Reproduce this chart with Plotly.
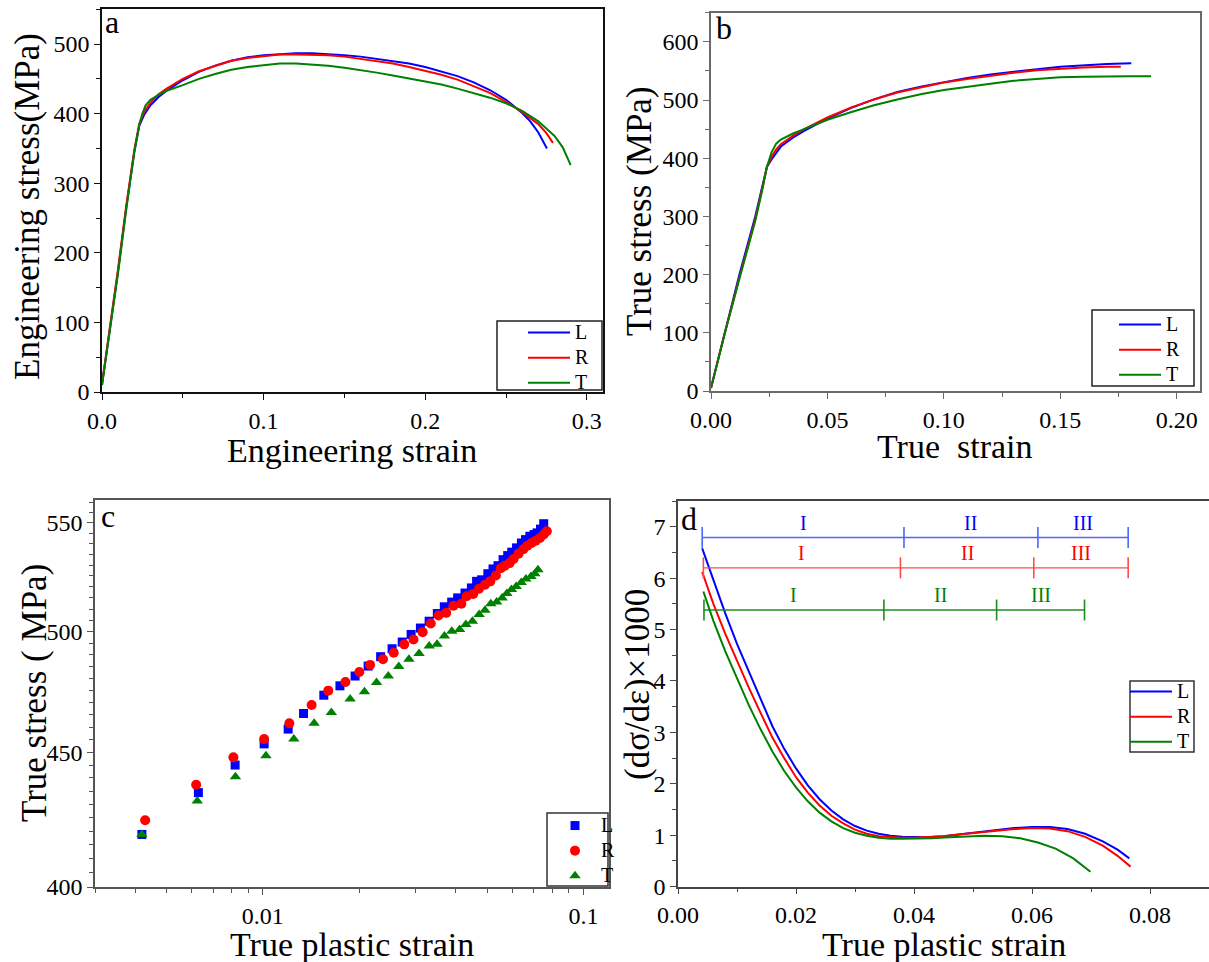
import math
import plotly.graph_objects as go

# ---------------- data ----------------
# (a) engineering stress-strain
a_L_x = [0, 0.005, 0.010, 0.015, 0.020, 0.023, 0.026, 0.030, 0.035, 0.040, 0.050, 0.060, 0.070, 0.080, 0.090,
         0.100, 0.110, 0.120, 0.130, 0.140, 0.150, 0.160, 0.170, 0.180, 0.190, 0.200, 0.210, 0.220, 0.230,
         0.240, 0.250, 0.260, 0.265, 0.270, 0.2753]
a_L_y = [10, 90, 175, 265, 345, 382, 398, 412, 424, 433, 448, 460, 469, 476, 481,
         484, 486, 487, 487, 486, 484, 482, 479, 476, 472, 467, 461, 454, 445,
         434, 420, 401, 389, 373, 350]
a_R_x = [0, 0.005, 0.010, 0.015, 0.020, 0.023, 0.026, 0.030, 0.035, 0.040, 0.050, 0.060, 0.070, 0.080, 0.090,
         0.100, 0.110, 0.120, 0.130, 0.140, 0.150, 0.160, 0.170, 0.180, 0.190, 0.200, 0.210, 0.220, 0.230,
         0.240, 0.250, 0.260, 0.270, 0.275, 0.279]
a_R_y = [12, 92, 178, 268, 348, 385, 402, 416, 428, 436, 450, 461, 469, 476, 480,
         483, 485, 485, 485, 484, 482, 479, 476, 472, 467, 462, 456, 449, 440,
         430, 417, 402, 385, 372, 358]
a_T_x = [0, 0.005, 0.010, 0.015, 0.020, 0.023, 0.025, 0.027, 0.030, 0.035, 0.040, 0.050, 0.060, 0.070, 0.080,
         0.090, 0.100, 0.110, 0.120, 0.130, 0.140, 0.150, 0.160, 0.170, 0.180, 0.190, 0.200, 0.210, 0.220,
         0.230, 0.240, 0.250, 0.260, 0.270, 0.280, 0.285, 0.290]
a_T_y = [10, 88, 172, 262, 345, 383, 400, 412, 420, 427, 433, 441, 450, 457, 463,
         467, 470, 472, 472, 471, 469, 466, 463, 459, 455, 451, 447, 442, 436,
         430, 423, 415, 404, 389, 368, 352, 326]

# (b) true stress-strain
b_L_x = [0, 0.0058, 0.0122, 0.019, 0.022, 0.024, 0.026, 0.028, 0.030, 0.035, 0.040, 0.050, 0.060, 0.070,
         0.080, 0.090, 0.100, 0.110, 0.120, 0.130, 0.140, 0.150, 0.160, 0.170, 0.1805]
b_L_y = [5, 100, 200, 300, 350, 385, 398, 410, 420, 435, 447, 468, 486, 501,
         514, 523, 531, 538, 544, 549, 553, 557, 560, 562, 563]
b_R_x = [0, 0.0058, 0.0122, 0.019, 0.022, 0.024, 0.026, 0.028, 0.030, 0.035, 0.040, 0.050, 0.060, 0.070,
         0.080, 0.090, 0.100, 0.110, 0.120, 0.130, 0.140, 0.150, 0.160, 0.170, 0.176]
b_R_y = [5, 98, 195, 295, 348, 385, 402, 415, 424, 438, 450, 470, 487, 501,
         513, 522, 530, 536, 542, 547, 551, 554, 556, 557, 557]
b_T_x = [0, 0.0058, 0.0122, 0.019, 0.022, 0.024, 0.026, 0.028, 0.030, 0.035, 0.040, 0.050, 0.060, 0.070,
         0.080, 0.090, 0.100, 0.110, 0.120, 0.130, 0.140, 0.150, 0.160, 0.170, 0.180, 0.189]
b_T_y = [5, 97, 193, 292, 345, 385, 410, 425, 432, 442, 450, 466, 479, 491,
         501, 510, 517, 523, 528, 533, 536, 539, 540, 541, 541, 541]

# (c) true stress vs true plastic strain (log-log)
c_L_x = [0.0042, 0.0063, 0.0082, 0.0101, 0.0120, 0.0134, 0.0155, 0.0174, 0.0194, 0.0213, 0.0233, 0.0253,
         0.0272, 0.0290, 0.0310, 0.0330, 0.0350, 0.0368, 0.0388, 0.0405, 0.0427, 0.0447, 0.0464, 0.0481,
         0.0503, 0.0522, 0.0541, 0.0561, 0.0580, 0.0597, 0.0618, 0.0640, 0.0659, 0.0680, 0.0701, 0.0716,
         0.0734, 0.0751]
c_L_y = [418.8, 434.4, 445.0, 453.3, 459.2, 465.5, 473.0, 476.9, 481.0, 485.2, 489.2, 492.6,
         495.5, 498.8, 501.6, 504.6, 508.0, 511.0, 513.1, 515.0, 517.2, 519.5, 522.5, 523.2,
         526.0, 528.2, 529.7, 532.5, 534.4, 536.0, 538.0, 540.3, 541.9, 543.5, 544.3, 545.1,
         546.9, 549.5]
c_R_x = [0.0043, 0.0062, 0.0081, 0.0101, 0.0121, 0.0142, 0.0160, 0.0181, 0.0200, 0.0216, 0.0237, 0.0256,
         0.0276, 0.0295, 0.0315, 0.0334, 0.0353, 0.0373, 0.0393, 0.0416, 0.0432, 0.0453, 0.0472, 0.0493,
         0.0512, 0.0533, 0.0552, 0.0568, 0.0588, 0.0605, 0.0627, 0.0649, 0.0668, 0.0688, 0.0709, 0.0731,
         0.0751, 0.0768]
c_R_y = [424.0, 437.4, 448.0, 455.2, 461.5, 469.0, 474.9, 478.5, 482.7, 485.7, 488.1, 490.9,
         494.5, 496.6, 499.8, 503.6, 507.1, 508.3, 511.5, 512.4, 515.7, 516.8, 519.1, 521.0,
         522.5, 525.2, 528.5, 529.7, 530.9, 532.8, 535.3, 537.4, 539.0, 540.3, 541.4, 542.7,
         544.3, 545.9]
c_T_x = [0.0042, 0.00625, 0.00822, 0.01023, 0.0125, 0.01446, 0.01636, 0.01872, 0.02075, 0.02263, 0.02462,
         0.02654, 0.02855, 0.0307, 0.03303, 0.03493, 0.03683, 0.03884, 0.04107, 0.04295, 0.04504, 0.04725,
         0.04927, 0.05138, 0.05358, 0.05572, 0.05763, 0.0596, 0.06164, 0.06391, 0.0661, 0.06855, 0.07048,
         0.07207]
c_T_y = [418.8, 431.2, 440.5, 448.6, 455.2, 461.5, 465.9, 471.4, 474.4, 478.3, 481.0,
         485.0, 488.1, 490.6, 493.8, 494.5, 498.1, 500.2, 501.0, 503.2, 504.6, 507.6,
         509.5, 512.4, 513.1, 515.0, 517.0, 518.8, 520.2, 522.0, 523.6, 524.7, 526.0,
         527.8]

# (d) work hardening rate
d_L_x = [0.0041, 0.006, 0.008, 0.010, 0.012, 0.014, 0.016, 0.018, 0.020, 0.022, 0.024, 0.026, 0.028, 0.030,
         0.032, 0.034, 0.036, 0.038, 0.040, 0.042, 0.045, 0.048, 0.051, 0.054, 0.057, 0.060, 0.063, 0.066,
         0.069, 0.072, 0.0745, 0.0765]
d_L_y = [6.58, 5.95, 5.32, 4.72, 4.18, 3.65, 3.12, 2.68, 2.30, 1.97, 1.70, 1.48, 1.31, 1.18,
         1.09, 1.03, 0.99, 0.97, 0.96, 0.96, 0.98, 1.02, 1.06, 1.10, 1.14, 1.16, 1.16, 1.12,
         1.03, 0.88, 0.72, 0.55]
d_R_x = [0.0041, 0.006, 0.008, 0.010, 0.012, 0.014, 0.016, 0.018, 0.020, 0.022, 0.024, 0.026, 0.028, 0.030,
         0.032, 0.034, 0.036, 0.038, 0.040, 0.042, 0.045, 0.048, 0.051, 0.054, 0.057, 0.060, 0.063, 0.066,
         0.069, 0.072, 0.0745, 0.0767]
d_R_y = [6.12, 5.50, 4.92, 4.38, 3.87, 3.38, 2.90, 2.50, 2.13, 1.83, 1.58, 1.38, 1.23, 1.11,
         1.03, 0.98, 0.96, 0.95, 0.95, 0.96, 0.98, 1.02, 1.06, 1.09, 1.12, 1.14, 1.13, 1.08,
         0.97, 0.80, 0.60, 0.39]
d_T_x = [0.0043, 0.006, 0.008, 0.010, 0.012, 0.014, 0.016, 0.018, 0.020, 0.022, 0.024, 0.026, 0.028, 0.030,
         0.032, 0.034, 0.036, 0.038, 0.040, 0.043, 0.046, 0.049, 0.052, 0.055, 0.058, 0.061, 0.064, 0.067,
         0.0699]
d_T_y = [5.74, 5.17, 4.58, 4.04, 3.53, 3.06, 2.63, 2.25, 1.93, 1.66, 1.44, 1.27, 1.14, 1.05,
         0.99, 0.95, 0.93, 0.93, 0.93, 0.94, 0.96, 0.98, 0.99, 0.98, 0.94, 0.86, 0.74, 0.55,
         0.29]

# stage boundaries (d)
stage_L = [0.0041, 0.0383, 0.0610, 0.0763]
stage_R = [0.0043, 0.0377, 0.0603, 0.0763]
stage_T = [0.0044, 0.0349, 0.0540, 0.0689]
stage_level = {"L": 6.79, "R": 6.20, "T": 5.38}
stage_names = ["I", "II", "III"]

series = ["L", "R", "T"]
colors = {"L": "#0000FF", "R": "#FF0000", "T": "#008000"}
bar_colors = {"L": "#4C66FF", "R": "#FF4A4A", "T": "#1E8C1E"}

FONT = "Liberation Serif"
W, H = 1209, 962

fig = go.Figure()

def px_x(p):
    return p / W

def px_y(p):
    return 1 - p / H

def lname(s):
    # legend label slightly larger than the legend's line spacing font
    return "<span style='font-size:20px'>%s</span>" % s

# ---- panel a ----
for s, xs, ys in [("L", a_L_x, a_L_y), ("R", a_R_x, a_R_y), ("T", a_T_x, a_T_y)]:
    fig.add_trace(go.Scatter(x=xs, y=ys, mode="lines", name=lname(s), line=dict(color=colors[s], width=2),
                             xaxis="x", yaxis="y", legend="legend"))
# ---- panel b ----
for s, xs, ys in [("L", b_L_x, b_L_y), ("R", b_R_x, b_R_y), ("T", b_T_x, b_T_y)]:
    fig.add_trace(go.Scatter(x=xs, y=ys, mode="lines", name=lname(s), line=dict(color=colors[s], width=2),
                             xaxis="x2", yaxis="y2", legend="legend2"))
# ---- panel c ----
symbols = {"L": "square", "R": "circle", "T": "triangle-up"}
msize = {"L": 9, "R": 10, "T": 10}
for s, xs, ys in [("L", c_L_x, c_L_y), ("R", c_R_x, c_R_y), ("T", c_T_x, c_T_y)]:
    fig.add_trace(go.Scatter(x=xs, y=ys, mode="markers", name=lname(s),
                             marker=dict(symbol=symbols[s], size=msize[s], color=colors[s], line=dict(width=0)),
                             xaxis="x3", yaxis="y3", legend="legend3"))
# ---- panel d ----
for s, xs, ys in [("L", d_L_x, d_L_y), ("R", d_R_x, d_R_y), ("T", d_T_x, d_T_y)]:
    fig.add_trace(go.Scatter(x=xs, y=ys, mode="lines", name=lname(s), line=dict(color=colors[s], width=2),
                             xaxis="x4", yaxis="y4", legend="legend4"))

annotations = []
for s, bnd in [("L", stage_L), ("R", stage_R), ("T", stage_T)]:
    lvl = stage_level[s]
    fig.add_trace(go.Scatter(x=bnd, y=[lvl] * len(bnd), mode="lines+markers", showlegend=False,
                             line=dict(color=bar_colors[s], width=1.3),
                             marker=dict(symbol="line-ns", size=15, line=dict(color=bar_colors[s], width=1.6)),
                             xaxis="x4", yaxis="y4", hoverinfo="skip"))
    for i, nm in enumerate(stage_names):
        annotations.append(dict(x=(bnd[i] + bnd[i + 1]) / 2, y=lvl, xref="x4", yref="y4", text=nm,
                                showarrow=False, yanchor="bottom", yshift=2,
                                font=dict(family=FONT, size=20, color=colors[s])))

tickfont = dict(family=FONT, size=24, color="black")

def axis(domain, rng, linecolor, anchor, **kw):
    d = dict(domain=domain, range=rng, showline=True, linecolor=linecolor, linewidth=1.5, mirror=True,
             ticks="outside", ticklen=6, tickwidth=1.2, tickcolor=linecolor, showgrid=False, zeroline=False,
             tickfont=tickfont, anchor=anchor, automargin=False)
    d.update(kw)
    return d

minor = lambda c, **kw: dict(ticks="outside", ticklen=4, tickwidth=1.1, tickcolor=c, showgrid=False, **kw)

c_a, c_b, c_c, c_d = "#111111", "#6A6A6A", "#555555", "#444444"

layout = dict(
    width=W, height=H, margin=dict(l=0, r=0, t=0, b=0, pad=0, autoexpand=False),
    paper_bgcolor="white", plot_bgcolor="white", font=dict(family=FONT, color="black"),
    xaxis=axis([px_x(102), px_x(603)], [0, 0.31], c_a, "y", dtick=0.1, tick0=0, tickformat=".1f",
               minor=minor(c_a, dtick=0.05)),
    yaxis=axis([px_y(392), px_y(9.3)], [0, 550], c_a, "x", dtick=100, tick0=0, minor=minor(c_a, dtick=50)),
    xaxis2=axis([px_x(711), px_x(1200)], [0, 0.21], c_b, "y2", dtick=0.05, tick0=0, tickformat=".2f",
                minor=minor(c_b, dtick=0.025)),
    yaxis2=axis([px_y(391), px_y(12.7)], [0, 650], c_b, "x2", dtick=100, tick0=0, minor=minor(c_b, dtick=50)),
    xaxis3=axis([px_x(95), px_x(609)], [math.log10(0.003), math.log10(0.12)], c_c, "y3", type="log",
                tickvals=[0.01, 0.1], ticktext=["0.01", "0.1"],
                minor=minor(c_c, tickvals=[k * 10 ** e for e in (-3, -2, -1) for k in range(2, 10)])),
    yaxis3=axis([px_y(887), px_y(500)], [math.log10(400), math.log10(561)], c_c, "x3", type="log",
                tickvals=[400, 450, 500, 550], ticktext=["400", "450", "500", "550"],
                minor=minor(c_c, tickvals=[v for v in range(400, 565, 5) if v % 50])),
    xaxis4=axis([px_x(678), 1.0], [0, 0.09], c_d, "y4", dtick=0.02, tick0=0, tickformat=".2f",
                minor=minor(c_d, dtick=0.01)),
    yaxis4=axis([px_y(886.7), px_y(501)], [0, 7.5], c_d, "x4", dtick=1, tick0=0, minor=minor(c_d, dtick=0.5)),
    showlegend=True,
)

# legend boxes (left, top, right, bottom in px) and legend anchor (left, top)
legend_boxes = {
    "legend": ((497, 321, 602, 390), (523, 315), "#222222"),
    "legend2": ((1092, 310, 1194, 386), (1114, 307), "#222222"),
    "legend3": ((547, 813, 608, 886), (549, 808), "#333333"),
    "legend4": ((1130, 681, 1194, 752), (1125, 674), "#333333"),
}
shapes = []
for key, (box, anchor, col) in legend_boxes.items():
    shapes.append(dict(type="rect", xref="paper", yref="paper", x0=px_x(box[0]), x1=px_x(box[2]),
                       y0=px_y(box[3]), y1=px_y(box[1]), fillcolor="white", line=dict(color=col, width=1.5),
                       layer="above"))
    layout[key] = dict(x=px_x(anchor[0]), xanchor="left", y=px_y(anchor[1]), yanchor="top",
                       bgcolor="rgba(0,0,0,0)", borderwidth=0, font=dict(family=FONT, size=17, color="black"),
                       tracegroupgap=0, itemwidth=42)
layout["shapes"] = shapes

title_font = dict(family=FONT, size=34, color="black")
ytitle_font = dict(family=FONT, size=35, color="black")
titles = [
    ("Engineering strain", 352, 451, 0),
    ("Engineering stress(MPa)", 27, 207, -90),
    ("True\u00a0\u00a0strain", 955, 446, 0),
    ("True stress (MPa)", 639, 211, -90),
    ("True plastic strain", 352, 944, 0),
    ("True stress (\u00a0MPa)", 34, 693, -90),
    ("True plastic strain", 944, 944, 0),
    ("(d\u03c3/d\u03b5)\u00d71000", 637, 685, -90),
]
for t, x, y, ang in titles:
    annotations.append(dict(text=t, x=px_x(x), y=px_y(y), xref="paper", yref="paper", showarrow=False,
                            textangle=ang, xanchor="center", yanchor="middle",
                            font=ytitle_font if ang else title_font))

for t, x, y in [("a", 112, 22), ("b", 724, 28), ("c", 108, 516), ("d", 689, 519)]:
    annotations.append(dict(text=t, x=px_x(x), y=px_y(y), xref="paper", yref="paper", showarrow=False,
                            xanchor="center", yanchor="middle", font=dict(family=FONT, size=32, color="black")))

layout["annotations"] = annotations
fig.update_layout(**layout)
fig.write_html("out.html")
